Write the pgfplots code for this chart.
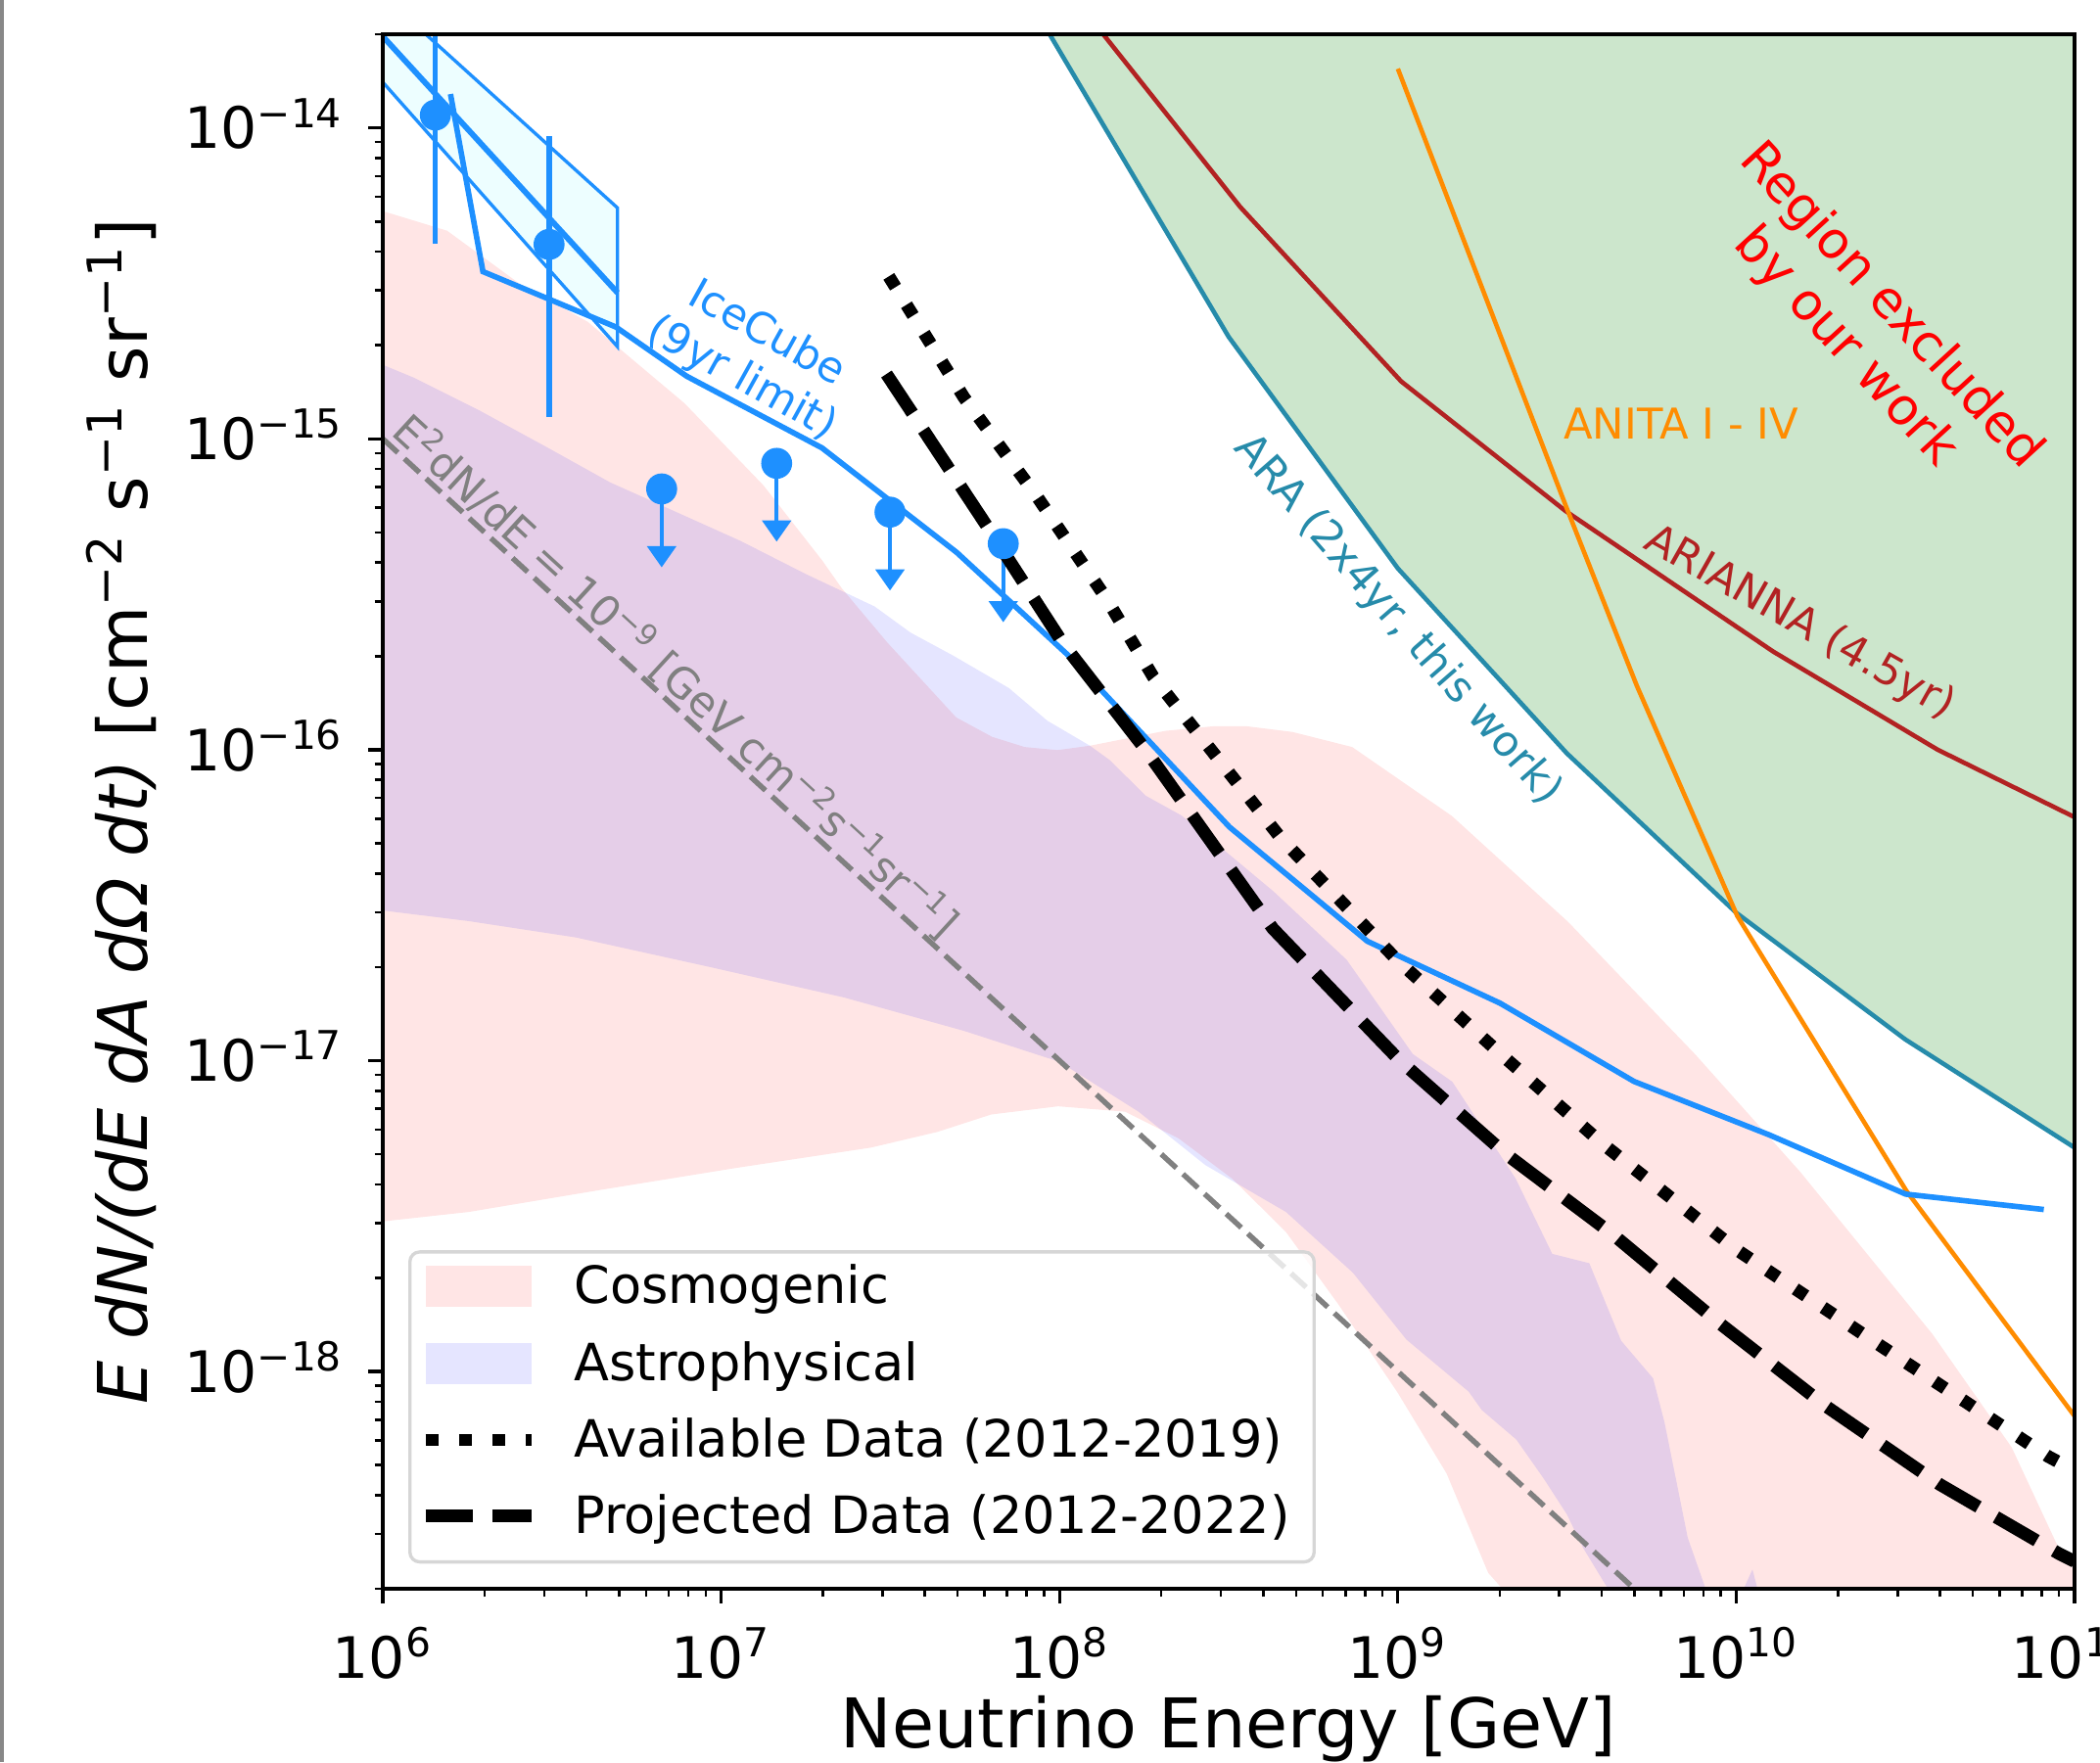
\documentclass[border=0pt]{standalone}
\usepackage{fontspec}
\setmainfont{DejaVu Sans}
\usepackage{pgfplots}
\pgfplotsset{compat=1.18}
\usetikzlibrary{arrows.meta}
\definecolor{dblue}{RGB}{30,144,255}
\definecolor{arateal}{RGB}{38,139,170}
\definecolor{firebrick}{RGB}{178,34,34}
\definecolor{dorange}{RGB}{255,140,0}
\definecolor{boxfill}{RGB}{237,254,255}
\definecolor{mgreen}{RGB}{0,128,0}
\definecolor{legedge}{RGB}{214,214,214}
\definecolor{framegray}{RGB}{136,136,136}
\newcommand{\sups}[1]{\textsuperscript{#1}}
\pgfplotsset{
  arealeg/.style={legend image code/.code={\fill[##1,sharp corners] (0pt,-3.45pt) rectangle (26pt,6.45pt);}},
  lineleg/.style={legend image code/.code={\draw[##1,sharp corners] (0pt,1.45pt) -- (26pt,1.45pt);}},
}
\begin{document}
\begin{tikzpicture}
\begin{axis}[
  at={(0pt,0pt)}, anchor=south west,
  scale only axis, width=414.72pt, height=381.12pt,
  xmode=log, ymode=log,
  xmin=1e6, xmax=1e11, ymin=2e-19, ymax=2e-14,
  axis on top, tick pos=left, tick align=outside,
  major tick length=3.5pt, minor tick length=2pt,
  major tick style={line width=0.8pt, black},
  minor tick style={line width=0.6pt, black},
  axis line style={line width=0.8pt},
  xtick={1e6,1e7,1e8,1e9,1e10,1e11},
  xticklabels={10\sups{6},10\sups{7},10\sups{8},10\sups{9},10\sups{10},10\sups{11}},
  ytick={1e-18,1e-17,1e-16,1e-15,1e-14},
  yticklabels={10\sups{−18},10\sups{−17},10\sups{−16},10\sups{−15},10\sups{−14}},
  minor xtick={2e6,3e6,4e6,5e6,6e6,7e6,8e6,9e6,2e7,3e7,4e7,5e7,6e7,7e7,8e7,9e7,2e8,3e8,4e8,5e8,6e8,7e8,8e8,9e8,2e9,3e9,4e9,5e9,6e9,7e9,8e9,9e9,2e10,3e10,4e10,5e10,6e10,7e10,8e10,9e10},
  minor ytick={2e-19,3e-19,4e-19,5e-19,6e-19,7e-19,8e-19,9e-19,2e-18,3e-18,4e-18,5e-18,6e-18,7e-18,8e-18,9e-18,2e-17,3e-17,4e-17,5e-17,6e-17,7e-17,8e-17,9e-17,2e-16,3e-16,4e-16,5e-16,6e-16,7e-16,8e-16,9e-16,2e-15,3e-15,4e-15,5e-15,6e-15,7e-15,8e-15,9e-15,2e-14},
  tick label style={font=\fontsize{14}{16.8}\selectfont},
  xticklabel style={anchor=base, inner sep=0pt, yshift=-18.48pt},
  yticklabel style={anchor=base east, inner sep=0pt, xshift=-5.9pt, yshift=-5.1pt},
  xlabel={Neutrino Energy [GeV]},
  ylabel={{\itshape E dN/(dE dA dΩ dt)} [cm\sups{−2} s\sups{−1} sr\sups{−1}]},
  every axis x label/.style={at={(axis description cs:0.5,-0.10207)}, anchor=base, font=\fontsize{16.8}{20}\selectfont},
  every axis y label/.style={at={(axis description cs:-0.13913,0.5)}, rotate=90, anchor=base, font=\fontsize{16.8}{20}\selectfont},
  legend cell align=left,
  legend style={
    at={(axis description cs:0,0)}, anchor=south west, xshift=6.24pt, yshift=6.2pt,
    draw=legedge, line width=0.8pt, rounded corners=2.4pt,
    fill=white, fill opacity=0.8, text opacity=1,
    inner xsep=2.3pt, inner ysep=3.5pt,
    font=\fontsize{12.6}{15}\selectfont,
    row sep=6.2pt,
    nodes={inner sep=0pt, text height=9pt, text depth=3.5pt},
    /tikz/every odd column/.append style={column sep=8.9pt},
  },
]
% Cosmogenic band
\addplot[fill=red, fill opacity=0.1, draw=none, arealeg]
coordinates {
(1e6,5.40e-15) (1.549e6,4.67e-15) (2.52e6,3.17e-15) (4.03e6,2.38e-15) (7.80e6,1.30e-15)
(1.334e7,7.08e-16) (1.99e7,4.06e-16) (2.275e7,3.30e-16) (3.10e7,2.21e-16) (3.87e7,1.70e-16)
(4.95e7,1.27e-16) (6.32e7,1.10e-16) (7.89e7,1.02e-16) (9.86e7,9.97e-17) (1.23e8,1.03e-16)
(1.469e8,1.07e-16) (2.055e8,1.15e-16) (2.86e8,1.19e-16) (3.57e8,1.19e-16) (4.89e8,1.14e-16)
(7.33e8,1.02e-16) (1.445e9,6.12e-17) (3.19e9,2.79e-17) (7.55e9,1.05e-17) (1.545e10,4.39e-18)
(3.80e10,1.32e-18) (6.52e10,5.70e-19) (9.31e10,2.48e-19) (1e11,2.30e-19) (1e11,1e-19)
(3.6e9,1e-19) (1.85e9,2.25e-19) (1.393e9,4.70e-19) (1.0e9,8.53e-19) (6.71e8,1.63e-18)
(4.67e8,2.81e-18) (3.24e8,4.17e-18) (2.25e8,5.62e-18) (1.564e8,6.85e-18) (9.91e7,7.13e-18)
(6.28e7,6.71e-18) (4.36e7,5.90e-18) (2.77e7,5.25e-18) (1.112e7,4.52e-18) (4.47e6,3.85e-18)
(1.795e6,3.26e-18) (1e6,3.04e-18)
} -- cycle;
\addlegendentry{Cosmogenic}
% Astrophysical band
\addplot[fill=blue, fill opacity=0.1, draw=none, arealeg]
coordinates {
(1e6,1.73e-15) (1.240e6,1.57e-15) (1.932e6,1.233e-15) (3.02e6,9.46e-16) (4.70e6,7.24e-16)
(7.33e6,5.83e-16) (1.143e7,4.69e-16) (1.782e7,3.67e-16) (2.84e7,2.89e-16) (3.63e7,2.38e-16)
(4.84e7,2.01e-16) (7.08e7,1.58e-16) (9.20e7,1.24e-16) (1.23e8,1.03e-16) (1.406e8,9.27e-17)
(1.80e8,7.11e-17) (2.29e8,6.15e-17) (2.86e8,5.06e-17) (4.28e8,3.51e-17) (7.06e8,2.11e-17)
(1.107e9,1.05e-17) (1.449e9,8.55e-18) (2.23e9,4.17e-18) (2.86e9,2.39e-18) (3.68e9,2.23e-18)
(4.57e9,1.256e-18) (5.68e9,9.51e-19) (6.14e9,6.86e-19) (7.19e9,2.92e-19) (8.11e9,2.01e-19)
(8.24e9,1.9e-19) (1.03e10,1.9e-19) (1.117e10,2.31e-19) (1.17e10,1.9e-19) (4.3e9,1.9e-19)
(3.52e9,2.72e-19) (3.16e9,3.47e-19) (2.70e9,4.52e-19) (2.24e9,6.04e-19) (1.77e9,7.52e-19)
(1.62e9,8.61e-19) (1.059e9,1.268e-18) (7.36e8,2.08e-18) (4.67e8,3.26e-18) (2.70e8,4.61e-18)
(1.713e8,6.85e-18) (1e8,9.91e-18) (5.24e7,1.245e-17) (2.31e7,1.596e-17) (9.27e6,2.00e-17)
(3.72e6,2.49e-17) (1.795e6,2.81e-17) (1e6,3.04e-17)
} -- cycle;
\addlegendentry{Astrophysical}
% Region excluded (ARA)
\addplot[fill=mgreen, fill opacity=0.2, draw=none, forget plot]
coordinates {
(8.11e7,2.60e-14) (3.16e8,2.13e-15) (1e9,3.83e-16) (3.16e9,9.73e-17) (1e10,2.99e-17)
(3.16e10,1.17e-17) (1e11,5.25e-18) (1e11,3e-14)
} -- cycle;
% ARA line
\addplot[arateal, line width=1.1pt, forget plot]
coordinates {
(8.11e7,2.60e-14) (3.16e8,2.13e-15) (1e9,3.83e-16) (3.16e9,9.73e-17) (1e10,2.99e-17)
(3.16e10,1.17e-17) (1e11,5.25e-18)
};
% ARIANNA
\addplot[firebrick, line width=1.1pt, forget plot]
coordinates {
(1e8,3.01e-14) (3.42e8,5.57e-15) (1.023e9,1.53e-15) (3.13e9,5.86e-16) (1.285e10,2.07e-16)
(3.94e10,1.00e-16) (1e11,6.07e-17)
};
% ANITA
\addplot[dorange, line width=1.1pt, forget plot]
coordinates {
(1e9,1.55e-14) (3.13e9,6.12e-16) (5.08e9,1.61e-16) (1.007e10,2.92e-17)
(3.18e10,3.82e-18) (1e11,7.19e-19)
};
% E^2 dN/dE = 1e-9 reference line
\addplot[gray, line width=1.3pt, dash pattern=on 5pt off 2.2pt, forget plot]
coordinates {(1e6,1e-15) (1e11,1e-20)};
% IceCube astrophysical fit box
\addplot[fill=boxfill, draw=dblue, line width=0.8pt, forget plot]
coordinates {(1e6,2.67e-14) (4.94e6,5.53e-15) (4.94e6,1.977e-15) (1e6,1.403e-14)} -- cycle;
\addplot[dblue, line width=1.4pt, forget plot]
coordinates {(1e6,1.97e-14) (4.94e6,2.95e-15)};
% IceCube 9yr limit
\addplot[dblue, line width=1.35pt, forget plot]
coordinates {
(1.585e6,1.285e-14) (1.977e6,3.45e-15) (4.88e6,2.29e-15) (7.91e6,1.59e-15) (1.986e7,9.35e-16)
(4.97e7,4.31e-16) (1.084e8,1.97e-16) (3.18e8,5.64e-17) (8.13e8,2.42e-17) (2.005e9,1.53e-17)
(4.99e9,8.57e-18) (1.247e10,5.78e-18) (3.17e10,3.72e-18) (8.11e10,3.32e-18)
};
% IceCube data points with error bars
\addplot[dblue, line width=1.3pt, forget plot] coordinates {(1.43e6,4.24e-15) (1.43e6,3e-14)};
\addplot[dblue, line width=1.3pt, forget plot] coordinates {(3.10e6,1.175e-15) (3.10e6,9.42e-15)};
\addplot[dblue, only marks, mark=*, mark size=3.6pt, forget plot]
coordinates {(1.43e6,1.10e-14) (3.10e6,4.22e-15)};
% IceCube upper limits
\addplot[dblue, line width=1pt, -{Triangle[width=7pt,length=5.2pt]}, forget plot]
coordinates {(6.67e6,6.90e-16) (6.67e6,3.86e-16)};
\addplot[dblue, line width=1pt, -{Triangle[width=7pt,length=5.2pt]}, forget plot]
coordinates {(1.459e7,8.34e-16) (1.459e7,4.67e-16)};
\addplot[dblue, line width=1pt, -{Triangle[width=7pt,length=5.2pt]}, forget plot]
coordinates {(3.155e7,5.81e-16) (3.155e7,3.25e-16)};
\addplot[dblue, line width=1pt, -{Triangle[width=7pt,length=5.2pt]}, forget plot]
coordinates {(6.82e7,4.60e-16) (6.82e7,2.57e-16)};
\addplot[dblue, only marks, mark=*, mark size=3.6pt, forget plot]
coordinates {(6.67e6,6.90e-16) (1.459e7,8.34e-16) (3.155e7,5.81e-16) (6.82e7,4.60e-16)};
% Available data (dotted)
\addplot[black, line width=3.1pt, dash pattern=on 3.1pt off 5.1pt, lineleg]
coordinates {
(3.13e7,3.33e-15) (5.22e7,1.358e-15) (8.58e7,6.52e-16) (1.374e8,3.07e-16) (1.891e8,1.718e-16)
(4.50e8,5.21e-17) (9.93e8,2.11e-17) (2.00e9,1.057e-17) (4.03e9,5.40e-18) (1.005e10,2.46e-18)
(2.47e10,1.28e-18) (8.36e10,5.33e-19) (1e11,4.80e-19)
};
\addlegendentry{Available Data (2012-2019)}
% Projected data (dashed)
\addplot[black, line width=3.1pt, dash pattern=on 11.5pt off 4.96pt, lineleg]
coordinates {
(3.08e7,1.616e-15) (6.24e7,5.05e-16) (1.026e8,2.19e-16) (1.79e8,1.005e-16) (4.27e8,2.66e-17)
(1.007e9,1.007e-17) (2.07e9,5.04e-18) (4.32e9,2.76e-18) (8.85e9,1.44e-18) (1.85e10,7.71e-19)
(4.00e10,4.33e-19) (8.97e10,2.60e-19) (1e11,2.45e-19)
};
\addlegendentry{Projected Data (2012-2022)\hspace*{3.6pt}}
% Annotations
\node[rotate=-29, text=dblue, align=center, font=\fontsize{10.4}{12.5}\selectfont]
  at (axis cs:1.25e7,1.84e-15) {IceCube\\(9yr limit)};
\node[rotate=-48.9, text=arateal, font=\fontsize{10.4}{12.5}\selectfont]
  at (axis cs:9.97e8,2.61e-16) {ARA (2x4yr, this work)};
\node[rotate=-29.5, text=firebrick, font=\fontsize{10.4}{12.5}\selectfont]
  at (axis cs:1.54e10,2.55e-16) {ARIANNA (4.5yr)};
\node[text=dorange, font=\fontsize{10.4}{12.5}\selectfont]
  at (axis cs:6.87e9,1.12e-15) {ANITA I - IV};
\node[rotate=-47.5, text=red, align=center, font=\fontsize{12.5}{15}\selectfont]
  at (axis cs:2.45e10,2.29e-15) {Region excluded\\by our work};
\node[rotate=-42.55, text=gray, font=\fontsize{10.4}{12.5}\selectfont]
  at (axis cs:7.38e6,1.726e-16) {E\sups{2}dN/dE = 10\sups{−9} [GeV cm\sups{−2}s\sups{−1}sr\sups{−1}]};
\end{axis}
\draw[framegray, line width=0.96pt] (-93.36pt,-42.48pt) -- (-93.36pt,389.52pt);
\pgfresetboundingbox
\useasboundingbox (-93.84pt,-42.48pt) rectangle (420.96pt,389.52pt);
\end{tikzpicture}
\end{document}
